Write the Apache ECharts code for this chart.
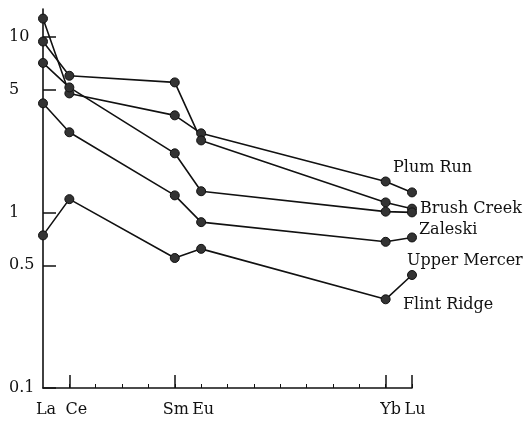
<!DOCTYPE html>
<html>
<head>
<meta charset="utf-8">
<script src="https://cdn.jsdelivr.net/npm/echarts@6/dist/echarts.min.js"></script>
<style>
  html, body { margin: 0; padding: 0; background: #fff; }
  #chart { width: 523px; height: 421px; }
</style>
</head>
<body>
<div id="chart"></div>
<script>
// rare earth elements, one slot per atomic number (La 57 .. Lu 71)
var elements = ['La', 'Ce', 'Pr', 'Nd', 'Pm', 'Sm', 'Eu', 'Gd', 'Tb', 'Dy', 'Ho', 'Er', 'Tm', 'Yb', 'Lu'];
// elements actually measured
var measured = ['La', 'Ce', 'Sm', 'Eu', 'Yb', 'Lu'];
// elements with a long tick
var longTicks = ['Ce', 'Sm', 'Yb', 'Lu'];

var siteNames = ['Plum Run', 'Brush Creek', 'Zaleski', 'Upper Mercer', 'Flint Ridge'];
var plumRun = [12.7, 4.76, 3.57, 2.82, 1.50, 1.30];
var brushCreek = [9.4, 6.0, 5.5, 2.57, 1.14, 1.05];
var zaleski = [7.1, 5.15, 2.17, 1.32, 1.01, 1.0];
var upperMercer = [4.18, 2.86, 1.25, 0.88, 0.68, 0.72];
var flintRidge = [0.74, 1.19, 0.55, 0.62, 0.32, 0.44];

var yTicks = [0.1, 0.5, 1, 5, 10];

var font = 'DejaVu Serif';
var ink = '#111';

// where each site name sits, relative to its Lu point
var labelOffsets = [[-19, -25], [8, 0], [7, 17], [-5, 23], [-9, 30]];
// small nudges to the right for the element names (px)
var nameShift = { La: 3, Ce: 7, Sm: 1, Eu: 2, Yb: 5, Lu: 3 };

var rich = {};
Object.keys(nameShift).forEach(function (k) {
    rich[k] = { fontFamily: font, fontSize: 16, color: ink, padding: [0, 0, 0, nameShift[k] * 2] };
});

var chart = echarts.init(document.getElementById('chart'));

var series = [plumRun, brushCreek, zaleski, upperMercer, flintRidge].map(function (vals, k) {
    return {
        type: 'line',
        name: siteNames[k],
        data: measured.map(function (el, i) { return [el, vals[i]]; }),
        symbol: 'circle',
        symbolSize: 9,
        lineStyle: { color: ink, width: 1.6 },
        itemStyle: { color: '#333', borderColor: ink, borderWidth: 1 },
        endLabel: {
            show: true,
            formatter: siteNames[k],
            distance: 0,
            offset: labelOffsets[k],
            fontFamily: font,
            fontSize: 16,
            color: ink
        },
        z: 5
    };
});

chart.setOption({
    animation: false,
    backgroundColor: '#fff',
    grid: { left: 43, right: 111, top: 9, bottom: 33 },
    xAxis: [{
        type: 'category',
        data: elements,
        boundaryGap: false,
        position: 'bottom',
        axisLine: { lineStyle: { color: ink, width: 1.6 } },
        axisTick: {
            inside: true,
            length: 4,
            lineStyle: { color: ink },
            interval: function (i) { return i > 0; }
        },
        axisLabel: {
            interval: function (i, v) { return measured.indexOf(v) >= 0; },
            margin: 14,
            fontFamily: font,
            fontSize: 16,
            color: ink,
            formatter: function (v) { return '{' + v + '|' + v + '}'; },
            rich: rich
        },
        splitLine: { show: false }
    }, {
        type: 'category',
        data: elements,
        boundaryGap: false,
        position: 'bottom',
        axisLine: { show: false },
        axisTick: {
            inside: true,
            length: 13,
            lineStyle: { color: ink, width: 1.5 },
            interval: function (i, v) { return longTicks.indexOf(v) >= 0; }
        },
        axisLabel: { show: false },
        splitLine: { show: false }
    }],
    yAxis: {
        type: 'log',
        logBase: 10,
        min: 0.1,
        max: 14.4,
        axisLine: { show: true, lineStyle: { color: ink, width: 1.6 } },
        axisTick: {
            show: true,
            inside: true,
            length: 13,
            customValues: yTicks,
            lineStyle: { color: ink, width: 1.5 }
        },
        axisLabel: {
            customValues: yTicks,
            align: 'left',
            margin: 34,
            fontFamily: font,
            fontSize: 16,
            color: ink,
            formatter: function (v) { return String(parseFloat(Number(v).toPrecision(6))); }
        },
        splitLine: { show: false }
    },
    series: series
});
</script>
</body>
</html>
